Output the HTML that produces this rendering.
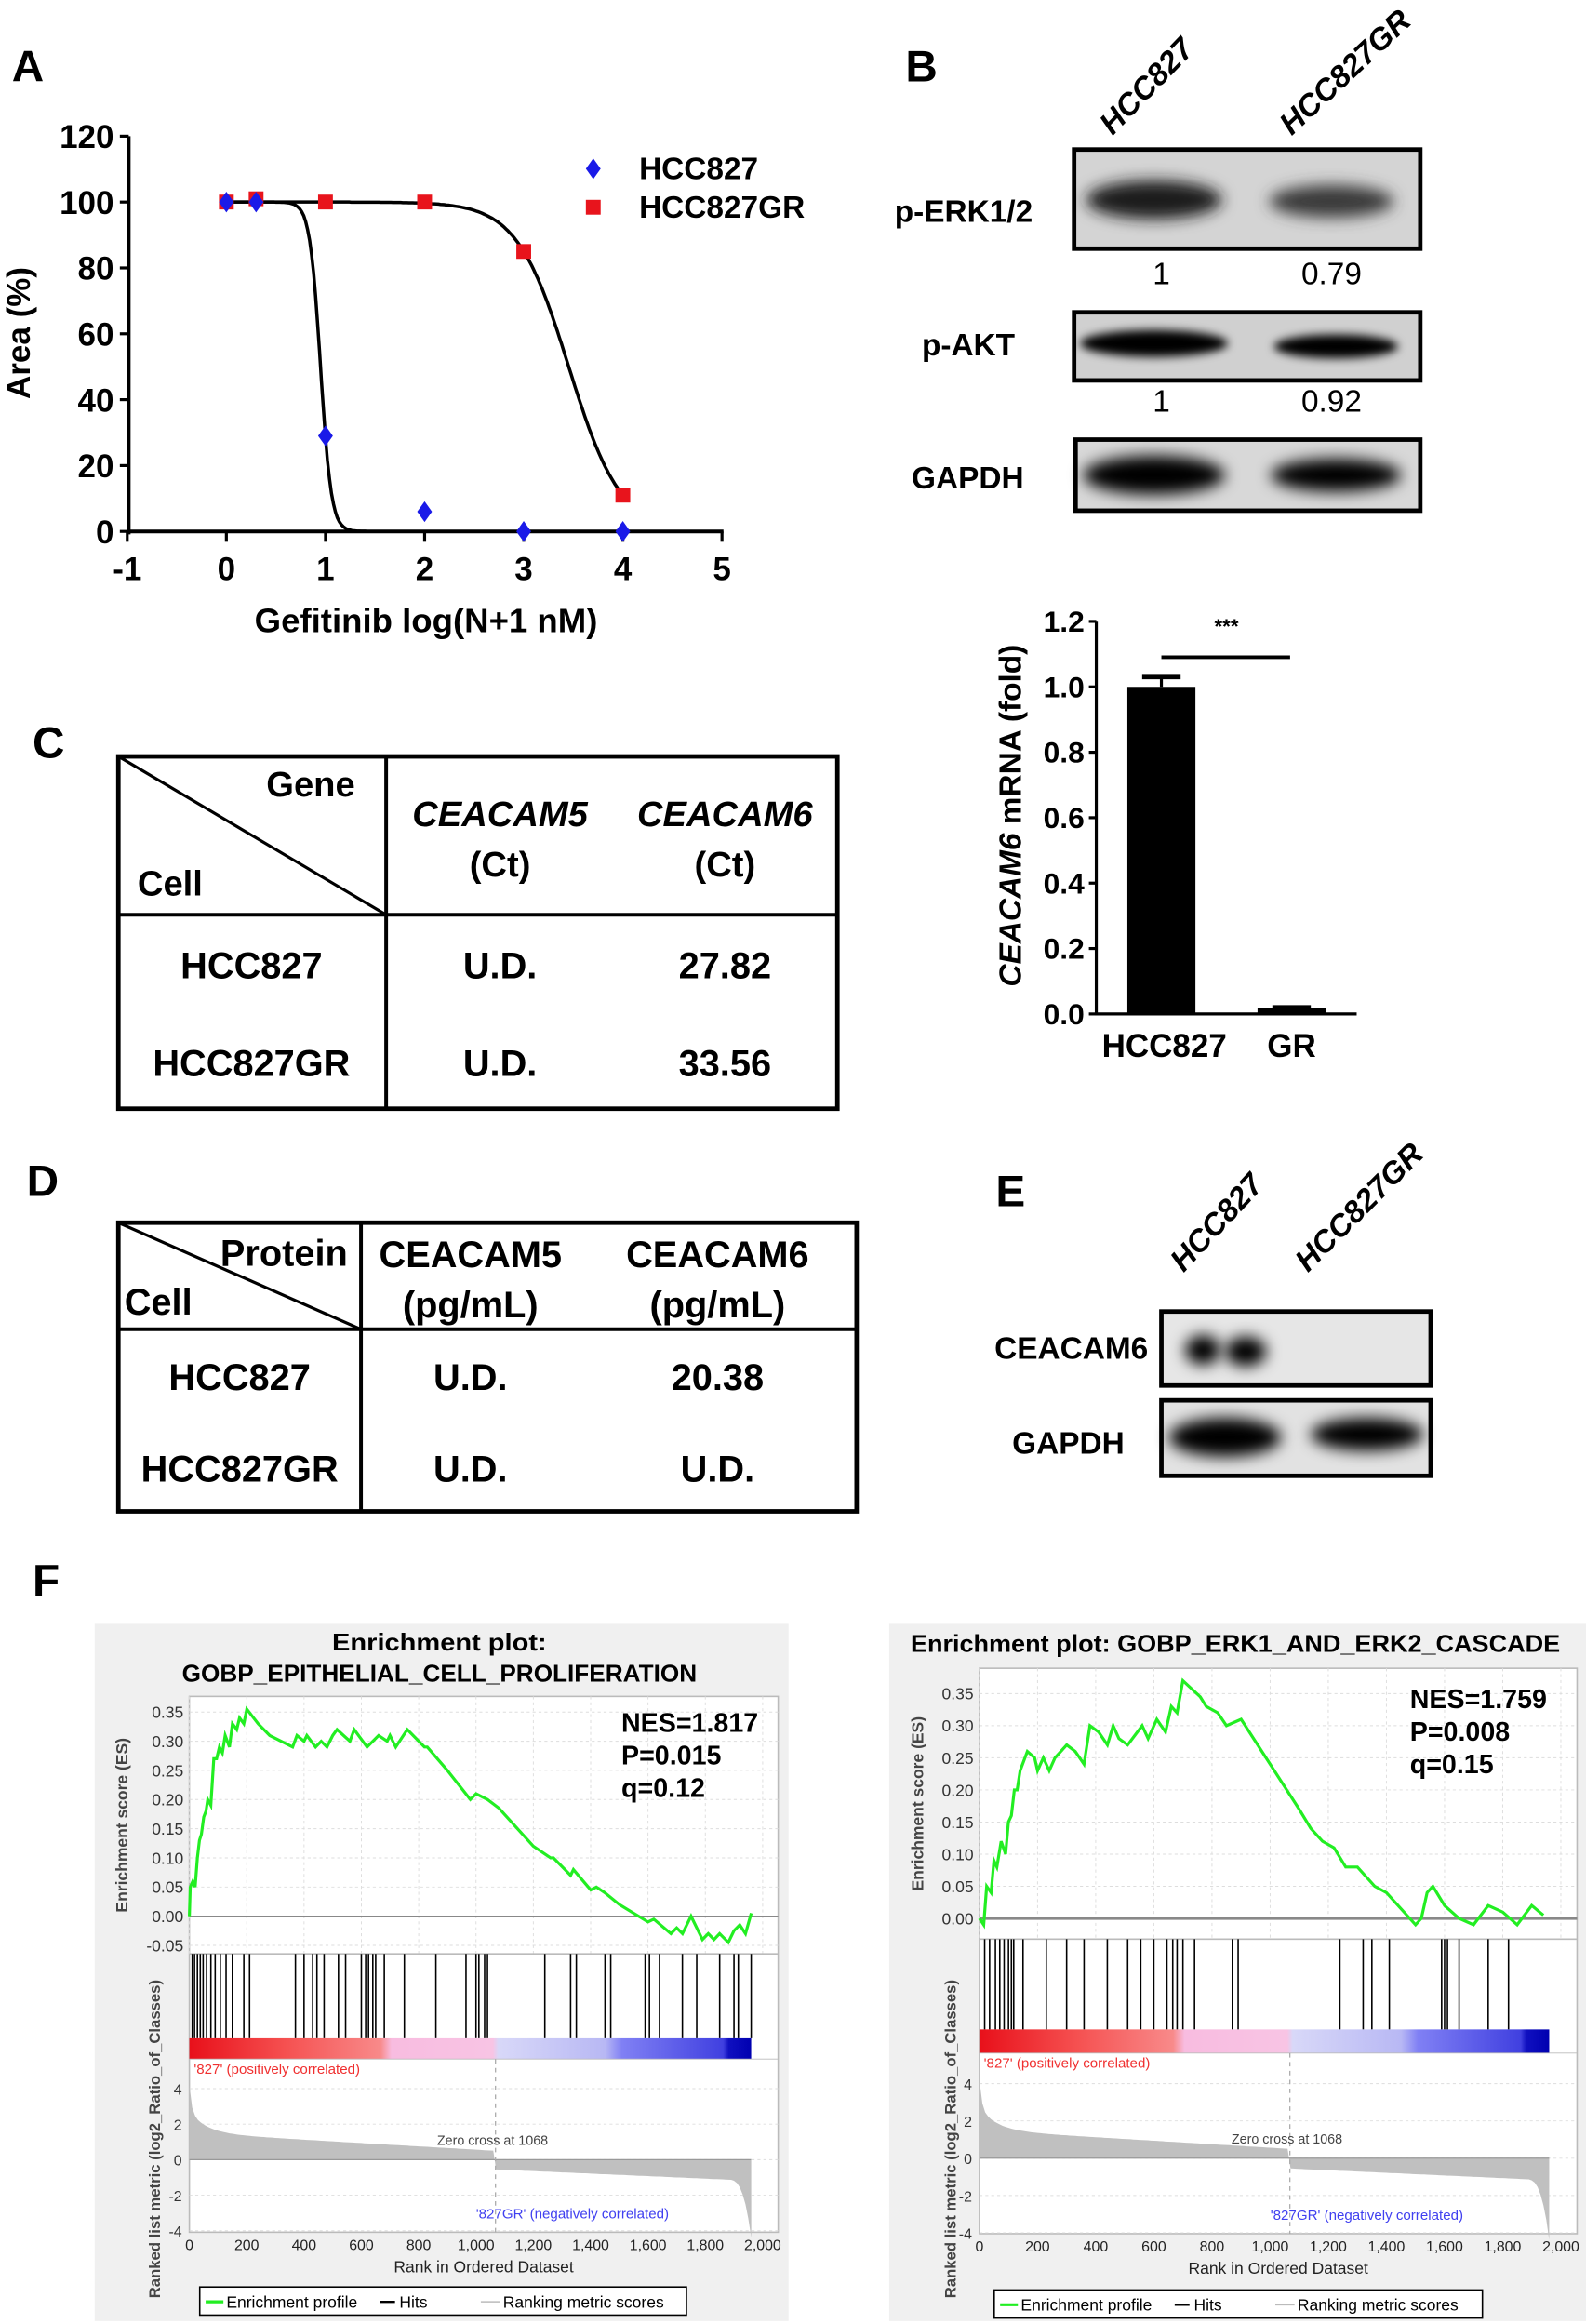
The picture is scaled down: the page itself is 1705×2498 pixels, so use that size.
<!DOCTYPE html>
<html><head><meta charset="utf-8"><style>
html,body{margin:0;padding:0;background:#fff;}
svg{display:block;}
text{font-family:"Liberation Sans",Arial,sans-serif;}
</style></head><body>
<svg id="s" xmlns="http://www.w3.org/2000/svg" width="1705" height="2498" viewBox="0 0 1072 1570" preserveAspectRatio="none">
<defs>
<filter id="bl" x="-50%" y="-50%" width="200%" height="200%"><feGaussianBlur stdDeviation="5"/></filter>
<filter id="bl2" x="-50%" y="-50%" width="200%" height="200%"><feGaussianBlur stdDeviation="3"/></filter>
<linearGradient id="cbar" x1="0" x2="1" y1="0" y2="0">
<stop offset="0" stop-color="#e8101a"/><stop offset="0.17" stop-color="#f55050"/><stop offset="0.34" stop-color="#f88a8a"/>
<stop offset="0.36" stop-color="#f8bce0"/><stop offset="0.54" stop-color="#f8c4e4"/><stop offset="0.55" stop-color="#d8d8f8"/>
<stop offset="0.74" stop-color="#b8b8f4"/><stop offset="0.77" stop-color="#8080f4"/><stop offset="0.95" stop-color="#4040e0"/>
<stop offset="0.96" stop-color="#1010c0"/><stop offset="1" stop-color="#0000b0"/></linearGradient>
</defs>
<g id="g"></g>
</svg>
<script>
var h='';
function T(x,y,s,sz,o){o=o||{};h+='<text x="'+x+'" y="'+y+'" font-size="'+sz+'"'+(o.a?' text-anchor="'+o.a+'"':'')+(o.n?'':' font-weight="bold"')+(o.i?' font-style="italic"':'')+(o.f?' fill="'+o.f+'"':'')+(o.t?' transform="'+o.t+'"':'')+(o.tl?' textLength="'+o.tl+'" lengthAdjust="spacingAndGlyphs"':'')+'>'+s+'</text>';}
function L(x1,y1,x2,y2,w,c,d){h+='<line x1="'+x1+'" y1="'+y1+'" x2="'+x2+'" y2="'+y2+'" stroke="'+(c||'#000')+'" stroke-width="'+(w||1)+'"'+(d?' stroke-dasharray="'+d+'"':'')+'/>';}
function R(x,y,w,hh,f,st,sw){h+='<rect x="'+x+'" y="'+y+'" width="'+w+'" height="'+hh+'" fill="'+(f||'none')+'"'+(st?' stroke="'+st+'" stroke-width="'+sw+'"':'')+'/>';}
// Panel letters
T(8,55,'A',30);T(612,55,'B',30);T(22,512,'C',30);T(18,808,'D',30);T(673,815,'E',30);T(22,1078,'F',30);
// Panel A
var ax=function(v){return 153+(v)*67;}, ay=function(v){return 359-v*2.225;};
L(87,92,87,361,2.5);L(86,359,489,359,2.5);
[0,20,40,60,80,100,120].forEach(function(v){L(81,ay(v),87,ay(v),2);T(77,ay(v)+8,v,22,{a:'end'});});
[-1,0,1,2,3,4,5].forEach(function(v){L(ax(v),359,ax(v),366,2);T(ax(v),392,v,22,{a:'middle'});});
T(288,427,'Gefitinib log(N+1 nM)',23,{a:'middle'});
T(20,225,'Area (%)',22,{a:'middle',t:'rotate(-90 20 225)'});
function sig(c,hh){var p='';for(var x=0;x<=4.001;x+=0.02){var y=100/(1+Math.pow(10,(x-c)*hh));p+=(p?'L':'M')+ax(x).toFixed(1)+','+ay(y).toFixed(1);}h+='<path d="'+p+'" fill="none" stroke="#000" stroke-width="2.2"/>';}
sig(0.95,8);sig(3.454,1.662);
[[0,100],[0.3,101],[1,100],[2,100],[3,85],[4,11]].forEach(function(p){R(ax(p[0])-5,ay(p[1])-5,10,10,'#e8141c');});
[[0,100],[0.3,100],[1,29],[2,6],[3,0],[4,0]].forEach(function(p){var x=ax(p[0]),y=ay(p[1]);h+='<path d="M'+x+','+(y-7)+'L'+(x+5)+','+y+'L'+x+','+(y+7)+'L'+(x-5)+','+y+'Z" fill="#1a1ae8"/>';});
h+='<path d="M401,107L406,114L401,121L396,114Z" fill="#1a1ae8"/>';R(396,135,10,10,'#e8141c');
T(432,121,'HCC827',21);T(432,147,'HCC827GR',21);
// Panel B
T(752,92,'HCC827',21,{i:1,t:'rotate(-46 752 92)'});T(873,92,'HCC827GR',21,{i:1,t:'rotate(-43 873 92)'});
function blot(x,y,w,hh,bands,bg){R(x,y,w,hh,bg||'#d6d6d6');bands.forEach(function(b){h+='<ellipse cx="'+b[0]+'" cy="'+b[1]+'" rx="'+b[2]+'" ry="'+b[3]+'" fill="'+(b[4]||'#000')+'" filter="url(#'+(b[5]||'bl')+')"/>';});R(x,y,w,hh,'none','#000',3);}
blot(726,101,234,67,[[780,135,46,13,'#1a1a1a'],[900,136,42,11,'#3a3a3a']],'#d4d4d4');
T(698,150,'p-ERK1/2',21,{a:'end'});T(785,192,'1',21,{a:'middle',n:1});T(900,192,'0.79',21,{a:'middle',n:1});
blot(726,211,234,46,[[780,232,50,9,'#000','bl2'],[903,234,42,8,'#000','bl2']],'#d0d0d0');
T(686,240,'p-AKT',21,{a:'end'});T(785,278,'1',21,{a:'middle',n:1});T(900,278,'0.92',21,{a:'middle',n:1});
blot(727,297,233,48,[[780,321,48,13],[903,321,44,11]],'#d8d8d8');
T(692,330,'GAPDH',21,{a:'end'});
// bar chart
var by=function(v){return 685-v*221;};
L(741,420,741,686,2);L(740,685,917,685,2);
[0,0.2,0.4,0.6,0.8,1.0,1.2].forEach(function(v){L(736,by(v),741,by(v),2);T(733,by(v)+7,v.toFixed(1),20,{a:'end'});});
R(762,by(1.0),46,by(0)-by(1.0),'#000');L(785,by(1.0),785,by(1.03),2);L(772,by(1.03),798,by(1.03),3);
R(850,681,46,4,'#000');L(860,680,886,680,2);
L(785,444,872,444,2.5);T(829,428,'***',14,{a:'middle'});
T(787,714,'HCC827',22,{a:'middle'});T(873,714,'GR',22,{a:'middle'});
h+='<text x="0" y="0" font-size="21" font-weight="bold" text-anchor="middle" transform="translate(690,551) rotate(-90)"><tspan font-style="italic">CEACAM6</tspan> mRNA (fold)</text>';
// Panel C
R(80,511,486,238,'none','#000',3);L(261,511,261,749,2.5);L(80,618,566,618,2.5);L(80,511,261,618,2);
T(210,538,'Gene',24,{a:'middle'});T(115,605,'Cell',24,{a:'middle'});
T(338,558,'CEACAM5',24,{a:'middle',i:1});T(338,592,'(Ct)',24,{a:'middle'});
T(490,558,'CEACAM6',24,{a:'middle',i:1});T(490,592,'(Ct)',24,{a:'middle'});
T(170,661,'HCC827',25,{a:'middle'});T(338,661,'U.D.',25,{a:'middle'});T(490,661,'27.82',25,{a:'middle'});
T(170,727,'HCC827GR',25,{a:'middle'});T(338,727,'U.D.',25,{a:'middle'});T(490,727,'33.56',25,{a:'middle'});
// Panel D
R(80,826,499,195,'none','#000',3);L(244,826,244,1021,2.5);L(80,898,579,898,2.5);L(80,826,244,898,2);
T(192,855,'Protein',25,{a:'middle'});T(107,888,'Cell',25,{a:'middle'});
T(318,856,'CEACAM5',25,{a:'middle'});T(318,890,'(pg/mL)',25,{a:'middle'});
T(485,856,'CEACAM6',25,{a:'middle'});T(485,890,'(pg/mL)',25,{a:'middle'});
T(162,939,'HCC827',25,{a:'middle'});T(318,939,'U.D.',25,{a:'middle'});T(485,939,'20.38',25,{a:'middle'});
T(162,1001,'HCC827GR',25,{a:'middle'});T(318,1001,'U.D.',25,{a:'middle'});T(485,1001,'U.D.',25,{a:'middle'});
// Panel E
T(800,860,'HCC827',21,{i:1,t:'rotate(-47 800 860)'});T(884,860,'HCC827GR',21,{i:1,t:'rotate(-45 884 860)'});
blot(785,886,182,50,[[813,912,12,10],[842,913,14,10]],'#e6e6e6');
T(776,918,'CEACAM6',21,{a:'end'});
blot(785,946,182,51,[[828,971,38,13],[924,969,38,11]],'#e2e2e2');
T(760,982,'GAPDH',21,{a:'end'});
// Panel F
function gsea(P){
 var x0=P.x0,x1=P.x1,X=function(r){return x0+(x1-x0)*r/2000;};
 R(P.bx,1097,P.bw,471,'#f0f0f0');
 P.title.forEach(function(t){T(t[0],t[1],t[2],16,{a:'middle',tl:t[3]});});
 R(x0,P.top,P.right-x0,P.bot-P.top,'#fff','#bbb',1);
 var EY=function(v){return P.e0-v*P.ek;};
 for(var r=0;r<=2000;r+=200)L(X(r),P.top,X(r),P.hitTop,0.6,'#ddd','2,2');
 P.eticks.forEach(function(v){L(x0,EY(v),P.right,EY(v),0.6,'#ddd','2,2');T(x0-4,EY(v)+4,v.toFixed(2),11,{a:'end',n:1,f:'#333'});});
 L(x0,EY(0),P.right,EY(0),P.zw,'#888');
 var p='';P.es.forEach(function(q,i){p+=(i?'L':'M')+X(q[0]).toFixed(1)+','+EY(q[1]).toFixed(1);});
 h+='<path d="'+p+'" fill="none" stroke="#22ee22" stroke-width="2"/>';
 L(x0,P.hitTop,P.right,P.hitTop,1,'#bbb');
 P.hits.forEach(function(r){L(X(r),P.hitTop,X(r),P.cbTop,1,'#000');});
 R(x0,P.cbTop,X(1960)-x0,P.cbBot-P.cbTop,'url(#cbar)');
 L(x0,P.cbBot,P.right,P.cbBot,0.6,'#bbb');
 var MY=function(v){return P.m0-v*P.mk;};
 [4,2,0,-2,-4].forEach(function(v){L(x0,MY(v),P.right,MY(v),0.6,'#ddd','2,2');T(x0-5,MY(v)+4,v,10,{a:'end',n:1,f:'#333'});});
 var m='M'+x0+','+MY(0);
 for(var r=0;r<=1960;r+=10){var v;
  if(r<1068)v=0.5+1.2*Math.exp(-r/60)+1.5*Math.exp(-r/8)+1.0*(1068-r)/1068; else v=-0.55-0.6*(r-1068)/850-3.2*Math.pow(Math.max(0,(r-1880)/80),3);
  m+='L'+X(r).toFixed(1)+','+MY(v).toFixed(1);}
 m+='L'+X(1960)+','+MY(0)+'Z';h+='<path d="'+m+'" fill="#c0c0c0"/>';
 L(x0,MY(0),X(1960),MY(0),0.8,'#999');
 L(X(1068),P.cbBot,X(1068),P.mbot,0.8,'#aaa','3,3');
 T(X(1068)-2,MY(0)-10,'Zero cross at 1068',9,{a:'middle',n:1,f:'#444'});
 T(x0+3,P.cbBot+10,"'827' (positively correlated)",9.5,{n:1,f:'#f03030'});
 T(X(1068)+52,MY(-3.3),"'827GR' (negatively correlated)",9.5,{a:'middle',n:1,f:'#4040f0'});
 for(var r=0;r<=2000;r+=200){T(X(r),P.mbot+12,r.toLocaleString('en-US'),10,{a:'middle',n:1,f:'#222'});}
 T((x0+P.right)/2,P.mbot+27,'Rank in Ordered Dataset',11,{a:'middle',n:1,f:'#222'});
 T(0,0,'Enrichment score (ES)',11,{a:'middle',f:'#444',t:'translate('+P.ylx+','+((P.top+P.hitTop)/2)+') rotate(-90)'});
 T(0,0,'Ranked list metric (log2_Ratio_of_Classes)',10.5,{a:'middle',f:'#444',t:'translate('+(P.ylx+22)+',1445) rotate(-90)'});
 R(P.lx,P.ly,P.lw,19,'#fff','#000',1);
 L(P.lx+4,P.ly+10,P.lx+16,P.ly+10,2,'#22ee22');
 T(P.lx+18,P.ly+14,'Enrichment profile',11,{n:1});
 L(P.lx+122,P.ly+10,P.lx+132,P.ly+10,1.5,'#000');T(P.lx+135,P.ly+14,'Hits',11,{n:1});
 L(P.lx+190,P.ly+10,P.lx+203,P.ly+10,1,'#bbb');T(P.lx+205,P.ly+14,'Ranking metric scores',11,{n:1});
 P.stats.forEach(function(s,i){T(P.sx,P.sy+i*22,s,18);});
}
gsea({x0:128,x1:515.5,right:526,top:1146,bot:1508,bx:64,bw:469,e0:1294.5,ek:394,eticks:[0.35,0.3,0.25,0.2,0.15,0.1,0.05,0,-0.05],zw:0.8,
 title:[[297,1115,'Enrichment plot:',145],[297,1136,'GOBP_EPITHELIAL_CELL_PROLIFERATION',348]],
 hitTop:1320,cbTop:1377,cbBot:1391,m0:1459,mk:12,mbot:1508,ylx:86,lx:135,ly:1545,lw:329,sx:420,sy:1170,stats:['NES=1.817','P=0.015','q=0.12'],
 es:[[0,0],[3,0.05],[12,0.06],[20,0.05],[28,0.1],[35,0.13],[42,0.14],[50,0.17],[58,0.18],[64,0.2],[75,0.19],[85,0.27],[95,0.27],[105,0.29],[115,0.28],[125,0.31],[140,0.29],[150,0.33],[165,0.32],[175,0.34],[190,0.33],[200,0.355],[240,0.33],[280,0.31],[360,0.29],[375,0.31],[400,0.30],[410,0.31],[440,0.29],[460,0.30],[480,0.29],[500,0.31],[515,0.32],[560,0.30],[575,0.32],[620,0.29],[640,0.30],[660,0.31],[690,0.30],[700,0.31],[720,0.29],[760,0.32],[820,0.29],[830,0.29],[900,0.25],[980,0.2],[1000,0.21],[1040,0.2],[1080,0.185],[1200,0.12],[1260,0.10],[1270,0.10],[1330,0.07],[1340,0.08],[1400,0.045],[1420,0.05],[1450,0.04],[1500,0.02],[1600,-0.01],[1620,-0.005],[1680,-0.03],[1700,-0.02],[1720,-0.03],[1750,0],[1790,-0.04],[1810,-0.03],[1830,-0.04],[1850,-0.03],[1880,-0.045],[1900,-0.025],[1920,-0.015],[1940,-0.03],[1960,0.005]],
 hits:[10,18,28,38,48,60,75,90,108,128,150,190,210,370,400,430,445,470,520,545,600,615,625,640,650,680,750,860,965,1000,1010,1030,1040,1240,1330,1350,1450,1470,1590,1605,1640,1720,1770,1850,1900,1915,1960]});
gsea({x0:662,x1:1055,right:1066,top:1127,bot:1509,bx:601,bw:471,e0:1296,ek:434,eticks:[0.35,0.3,0.25,0.2,0.15,0.1,0.05,0],zw:2,
 title:[[835,1116,'Enrichment plot: GOBP_ERK1_AND_ERK2_CASCADE',439]],
 hitTop:1310,cbTop:1371,cbBot:1387,m0:1458,mk:12.6,mbot:1509,ylx:624,lx:672,ly:1547,lw:330,sx:953,sy:1154,stats:['NES=1.759','P=0.008','q=0.15'],
 es:[[0,0],[15,-0.01],[25,0.05],[40,0.04],[50,0.09],[60,0.08],[75,0.12],[90,0.10],[100,0.15],[110,0.16],[120,0.2],[130,0.2],[140,0.23],[165,0.26],[190,0.25],[200,0.23],[220,0.25],[240,0.23],[260,0.25],[300,0.27],[330,0.26],[360,0.24],[380,0.3],[410,0.29],[440,0.27],[460,0.3],[480,0.28],[510,0.27],[560,0.3],[580,0.28],[610,0.31],[640,0.29],[660,0.33],[680,0.32],[700,0.37],[760,0.345],[780,0.33],[820,0.32],[850,0.3],[900,0.31],[1000,0.24],[1100,0.17],[1140,0.14],[1180,0.12],[1220,0.11],[1260,0.08],[1300,0.08],[1360,0.05],[1400,0.04],[1500,-0.01],[1520,0.0],[1540,0.04],[1560,0.05],[1600,0.02],[1650,0.0],[1700,-0.01],[1750,0.02],[1800,0.01],[1850,-0.01],[1900,0.02],[1940,0.005]],
 hits:[18,35,55,70,85,100,110,118,150,230,300,360,440,510,555,600,645,665,680,700,740,870,890,1240,1320,1350,1410,1590,1600,1610,1650,1750,1820]});
document.getElementById('g').innerHTML=h;
</script>
</body></html>
